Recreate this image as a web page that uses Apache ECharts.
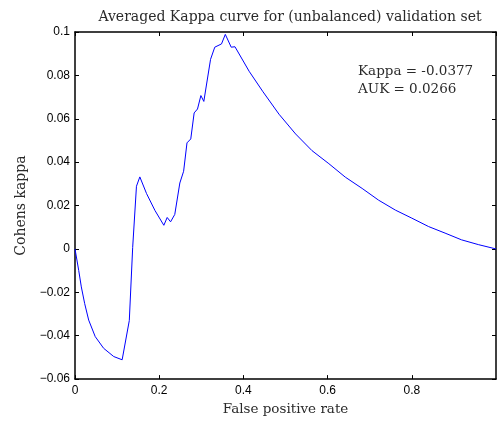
<!DOCTYPE html>
<html>
<head>
<meta charset="utf-8">
<script src="https://cdn.jsdelivr.net/npm/echarts@6/dist/echarts.min.js"></script>
<style>html,body{margin:0;padding:0;background:#fff;}#chart{width:497px;height:421px;}</style>
</head>
<body>
<div id="chart"></div>
<script>
const titleText = 'Averaged Kappa curve for (unbalanced) validation set';
const xName = 'False positive rate';
const yName = 'Cohens kappa';
const annotations = ['Kappa = -0.0377', 'AUK = 0.0266'];
const fpr = [0, 0.0088, 0.015, 0.023, 0.0325, 0.048, 0.068, 0.092, 0.112,
  0.129, 0.137, 0.146, 0.154, 0.17, 0.19, 0.211, 0.219, 0.227, 0.237, 0.249, 0.258, 0.266, 0.275,
  0.283, 0.291, 0.299, 0.306, 0.322, 0.332, 0.348, 0.357, 0.371, 0.38, 0.4136, 0.4456, 0.4846,
  0.524, 0.563, 0.603, 0.642, 0.682, 0.721, 0.761, 0.8, 0.84, 0.879, 0.918, 0.958, 1.0];
const kappa = [0, -0.0099, -0.0175, -0.0252, -0.0328, -0.0404, -0.0458, -0.0496, -0.0511,
  -0.033, 0.0007, 0.0289, 0.0332, 0.0255, 0.0177, 0.0109, 0.0145, 0.0125, 0.0159, 0.0304, 0.0358, 0.0489, 0.0507,
  0.0627, 0.0645, 0.0707, 0.068, 0.0874, 0.093, 0.0945, 0.0989, 0.093, 0.0932, 0.0819, 0.0727, 0.0621,
  0.053, 0.0453, 0.0393, 0.0331, 0.0279, 0.0225, 0.0179, 0.0142, 0.0103, 0.0073, 0.0042, 0.002, 0];
const xTickFmt = v => (v === 0 ? '0' : String(+v.toFixed(1)));
const yTickFmt = v => (v === 0 ? '0' : (v < 0 ? '\u2212' + String(+(-v).toFixed(2)) : String(+v.toFixed(2))));

const serif = 'DejaVu Serif';
const sans = 'Liberation Sans';
const textColor = '#2a2a2a';
const axisLine = { show: true, onZero: false, lineStyle: { color: '#000', width: 1.5 } };
const ticks = { show: true, inside: true, length: 4, lineStyle: { color: '#000', width: 1 } };

const chart = echarts.init(document.getElementById('chart'), null, { renderer: 'canvas' });
chart.setOption({
  animation: false,
  backgroundColor: '#fff',
  title: {
    text: titleText, left: 285, top: 5, textAlign: 'center',
    textStyle: { fontFamily: serif, fontSize: 14, fontWeight: 'normal', color: textColor }
  },
  grid: { left: 75, right: 1, top: 32, bottom: 40, containLabel: false },
  xAxis: [
    { type: 'value', position: 'bottom', min: 0, max: 1, interval: 0.2,
      name: xName, nameLocation: 'middle', nameGap: 20,
      nameTextStyle: { fontFamily: serif, fontSize: 13.5, color: textColor },
      axisLine, axisTick: ticks, splitLine: { show: false },
      axisLabel: { formatter: xTickFmt, fontFamily: sans, fontSize: 12, color: '#000', margin: 6, showMaxLabel: false } },
    { type: 'value', position: 'top', min: 0, max: 1, interval: 0.2,
      axisLine, axisTick: ticks, splitLine: { show: false }, axisLabel: { show: false } }
  ],
  yAxis: [
    { type: 'value', position: 'left', min: -0.06, max: 0.1, interval: 0.02,
      name: yName, nameLocation: 'middle', nameGap: 46, nameRotate: 90,
      nameTextStyle: { fontFamily: serif, fontSize: 14, color: textColor },
      axisLine, axisTick: ticks, splitLine: { show: false },
      axisLabel: { formatter: yTickFmt, fontFamily: sans, fontSize: 12, color: '#000', margin: 5 } },
    { type: 'value', position: 'right', min: -0.06, max: 0.1, interval: 0.02,
      axisLine, axisTick: ticks, splitLine: { show: false }, axisLabel: { show: false } }
  ],
  graphic: [
    { type: 'text', left: 358, top: 64, style: { text: annotations[0], fontFamily: serif, fontSize: 13.5, fill: textColor } },
    { type: 'text', left: 358, top: 82, style: { text: annotations[1], fontFamily: serif, fontSize: 13.5, fill: textColor } }
  ],
  series: [{
    type: 'line', xAxisIndex: 0, yAxisIndex: 0,
    data: fpr.map((x, i) => [x, kappa[i]]),
    showSymbol: false, symbol: 'none',
    lineStyle: { color: '#0000ff', width: 1 }
  }]
});
</script>
</body>
</html>
